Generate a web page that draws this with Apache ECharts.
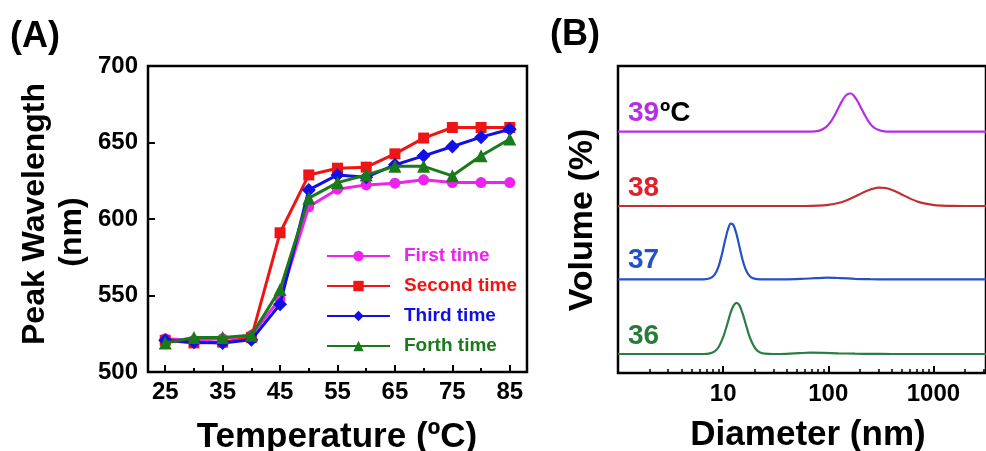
<!DOCTYPE html>
<html>
<head>
<meta charset="utf-8">
<script src="https://cdn.jsdelivr.net/npm/echarts@6/dist/echarts.min.js"></script>
<style>
html,body{margin:0;padding:0;background:#fff;}
#chart{width:986px;height:451px;}
</style>
</head>
<body>
<div id="chart"></div>
<script>
// ---------- Panel A data ----------
var temperatures = [25, 30, 35, 40, 45, 50, 55, 60, 65, 70, 75, 80, 85];
var firstTime  = [521.8, 520.7, 521.8, 524.0, 548.0, 608.0, 619.5, 622.3, 623.4, 625.6, 623.8, 623.8, 623.8];
var secondTime = [520.7, 519.0, 519.5, 522.5, 591.0, 628.8, 633.2, 633.9, 642.6, 652.9, 659.8, 659.8, 659.8];
var thirdTime  = [520.7, 519.5, 519.0, 521.0, 544.3, 619.0, 628.8, 627.3, 635.4, 641.3, 647.4, 653.5, 658.7];
var forthTime  = [519.0, 522.5, 522.5, 524.0, 554.0, 613.6, 623.8, 628.8, 634.4, 634.4, 628.2, 641.3, 652.3];
var seriesNamesA = ['First time', 'Second time', 'Third time', 'Forth time'];
var tempTickLabels = [25, 35, 45, 55, 65, 75, 85];
var tempMinorTicks = [30, 40, 50, 60, 70, 80];

// ---------- Panel B data ----------
var dls39Diameter = [1, 60, 75, 85, 95, 105, 115, 125, 135, 145, 155, 165, 175, 190, 205, 220, 240, 260, 285, 320, 400, 3162];
var dls39Volume   = [0, 0, 0.2, 0.8, 2.3, 4.8, 8.2, 12.0, 15.3, 17.8, 19.0, 19.1, 18.0, 15.2, 11.9, 8.8, 5.3, 3.0, 1.4, 0.45, 0, 0];
var dls38Diameter = [1, 60, 80, 100, 125, 150, 180, 215, 255, 300, 350, 410, 490, 580, 690, 820, 980, 1200, 1500, 2000, 3162];
var dls38Volume   = [0, 0, 0.17, 0.56, 1.5, 2.9, 4.8, 6.8, 8.4, 9.2, 9.0, 7.9, 6.0, 4.1, 2.4, 1.3, 0.57, 0.2, 0.03, 0, 0];
var dls37Diameter = [1, 6.5, 7.5, 8.3, 9, 9.7, 10.4, 11.1, 11.8, 12.5, 13.3, 14.2, 15.2, 16.3, 17.5, 19, 21, 25, 40, 55, 75, 97, 130, 180, 250, 350, 3162];
var dls37Volume   = [0, 0, 0.5, 2.3, 6.1, 12.2, 19.1, 24.9, 27.8, 27.2, 23.2, 17.0, 10.3, 5.2, 2.2, 0.6, 0.1, 0, 0, 0.2, 0.55, 0.8, 0.6, 0.25, 0.05, 0, 0];
var dls36Diameter = [1, 6.5, 7.5, 8.3, 9.1, 10, 10.9, 11.8, 12.6, 13.4, 14.3, 15.3, 16.4, 17.6, 19, 20.5, 22.5, 25, 30, 40, 52, 68, 90, 125, 180, 260, 400, 3162];
var dls36Volume   = [0, 0, 0.3, 1.3, 3.6, 8.4, 14.6, 20.8, 24.3, 25.6, 24.3, 20.3, 15.0, 9.6, 5.2, 2.4, 0.8, 0.2, 0, 0.1, 0.4, 0.7, 0.6, 0.35, 0.15, 0.05, 0, 0];
var diamTickLabels = [10, 100, 1000];
var diamMinorTicks = [2, 3, 4, 5, 6, 7, 8, 9, 20, 30, 40, 50, 60, 70, 80, 90, 200, 300, 400, 500, 600, 700, 800, 900, 2000, 3000];

function zip(xs, ys) { return xs.map(function (x, i) { return [x, ys[i]]; }); }

var FONT = 'Liberation Sans, Arial, sans-serif';
var colorsA = ['#ee22ee', '#f01515', '#1010e6', '#1a7a1a'];
var symbolsA = ['circle', 'rect', 'diamond', 'triangle'];
var symbolSizesA = [11, 11, 14, 13];
var dataA = [firstTime, secondTime, thirdTime, forthTime];

var chart = echarts.init(document.getElementById('chart'), null, { renderer: 'canvas' });

var bandTops = [61.7, 136, 209.3, 284];  // band grids for the stacked curves
var grids = [
  { left: 148, top: 66, width: 379, height: 306, show: true, borderColor: '#000', borderWidth: 2.5, backgroundColor: 'transparent' },
  { left: 618, top: 66, right: -11, height: 307, show: true, borderColor: '#000', borderWidth: 2.5, backgroundColor: 'transparent' }
];
bandTops.forEach(function (t) { grids.push({ left: 618, top: t, right: -11, height: 70, show: false }); });

function plainLabel(v) { return String(Math.round(v)); }

var xAxes = [
  { gridIndex: 0, type: 'value', position: 'bottom', min: 22, max: 88,
    axisLine: { show: false }, splitLine: { show: false },
    axisTick: { show: true, inside: true, length: 7, lineStyle: { color: '#000', width: 2 }, customValues: tempTickLabels },
    axisLabel: { show: true, customValues: tempTickLabels, color: '#000', fontSize: 24, fontWeight: 'bold', fontFamily: FONT, margin: 8 } },
  { gridIndex: 0, type: 'value', position: 'bottom', min: 22, max: 88,
    axisLine: { show: false }, splitLine: { show: false },
    axisTick: { show: true, inside: true, length: 4, lineStyle: { color: '#000', width: 2 }, customValues: tempMinorTicks },
    axisLabel: { show: false } },
  { gridIndex: 1, type: 'log', logBase: 10, position: 'bottom', min: 1, max: 3162.28,
    axisLine: { show: false }, splitLine: { show: false },
    axisTick: { show: true, inside: true, length: 7, lineStyle: { color: '#000', width: 2 }, customValues: diamTickLabels },
    axisLabel: { show: true, customValues: diamTickLabels, formatter: plainLabel, color: '#000', fontSize: 24, fontWeight: 'bold', fontFamily: FONT, margin: 9 } },
  { gridIndex: 1, type: 'log', logBase: 10, position: 'bottom', min: 1, max: 3162.28,
    axisLine: { show: false }, splitLine: { show: false },
    axisTick: { show: true, inside: true, length: 4, lineStyle: { color: '#000', width: 1.5 }, customValues: diamMinorTicks },
    axisLabel: { show: false } }
];
var yAxes = [
  { gridIndex: 0, type: 'value', min: 500, max: 700, interval: 50,
    axisLine: { show: false }, splitLine: { show: false },
    axisTick: { show: true, inside: true, length: 7, lineStyle: { color: '#000', width: 2 } },
    axisLabel: { color: '#000', fontSize: 24, fontWeight: 'bold', fontFamily: FONT, margin: 10 } },
  { gridIndex: 1, type: 'value', min: 0, max: 1, show: false }
];
for (var g = 0; g < 4; g++) {
  xAxes.push({ gridIndex: 2 + g, type: 'log', logBase: 10, min: 1, max: 3162.28, show: false });
  yAxes.push({ gridIndex: 2 + g, type: 'value', min: 0, max: 35, show: false });
}

var series = [];
dataA.forEach(function (arr, i) {
  series.push({
    name: seriesNamesA[i], type: 'line', xAxisIndex: 0, yAxisIndex: 0,
    data: zip(temperatures, arr),
    symbol: symbolsA[i], symbolSize: symbolSizesA[i],
    lineStyle: { color: colorsA[i], width: 3 },
    itemStyle: { color: colorsA[i] },
    z: 2 + i
  });
});
var dlsSets = [
  { x: dls39Diameter, y: dls39Volume, color: '#b52ee6' },
  { x: dls38Diameter, y: dls38Volume, color: '#c0302e' },
  { x: dls37Diameter, y: dls37Volume, color: '#2352c8' },
  { x: dls36Diameter, y: dls36Volume, color: '#2a7e45' }
];
dlsSets.forEach(function (s, i) {
  series.push({
    type: 'line', xAxisIndex: 4 + i, yAxisIndex: 2 + i,
    data: zip(s.x, s.y), showSymbol: false, symbol: 'none',
    smooth: 0.3, clip: false,
    lineStyle: { color: s.color, width: 2.2 }
  });
});

function txt(x, y, text, size, color, opts) {
  opts = opts || {};
  return {
    type: 'text', x: x, y: y, rotation: opts.rotation || 0, z: 100,
    style: { text: text, fill: color, font: 'bold ' + size + 'px ' + FONT,
      align: opts.align || 'center', verticalAlign: 'middle' }
  };
}

var option = {
  animation: false,
  backgroundColor: '#fff',
  grid: grids,
  xAxis: xAxes,
  yAxis: yAxes,
  legend: {
    orient: 'vertical', left: 321, top: 240,
    itemWidth: 63, itemHeight: 13, itemGap: 8,
    data: seriesNamesA.map(function (n, i) {
      return { name: n, textStyle: { color: colorsA[i] } };
    }),
    textStyle: { fontSize: 19, fontWeight: 'bold', fontFamily: FONT, padding: [0, 0, 0, 9], lineHeight: 22 }
  },
  series: series,
  graphic: [
    txt(10, 37, '(A)', 36, '#000', { align: 'left' }),
    txt(550, 35, '(B)', 36, '#000', { align: 'left' }),
    txt(337, 437, 'Temperature (ºC)', 35, '#000'),
    txt(35, 214, 'Peak Wavelength', 32, '#000', { rotation: Math.PI / 2 }),
    txt(72, 232, '(nm)', 32, '#000', { rotation: Math.PI / 2 }),
    txt(808, 435, 'Diameter (nm)', 35, '#000'),
    txt(583, 220, 'Volume (%)', 34, '#000', { rotation: Math.PI / 2 }),
    txt(628, 113, '39', 28, '#b52ee6', { align: 'left' }),
    txt(660, 113, 'ºC', 28, '#000', { align: 'left' }),
    txt(628, 188, '38', 28, '#e0202a', { align: 'left' }),
    txt(628, 260, '37', 28, '#2352c8', { align: 'left' }),
    txt(628, 336, '36', 28, '#2a7a3a', { align: 'left' })
  ]
};
chart.setOption(option);
</script>
</body>
</html>
